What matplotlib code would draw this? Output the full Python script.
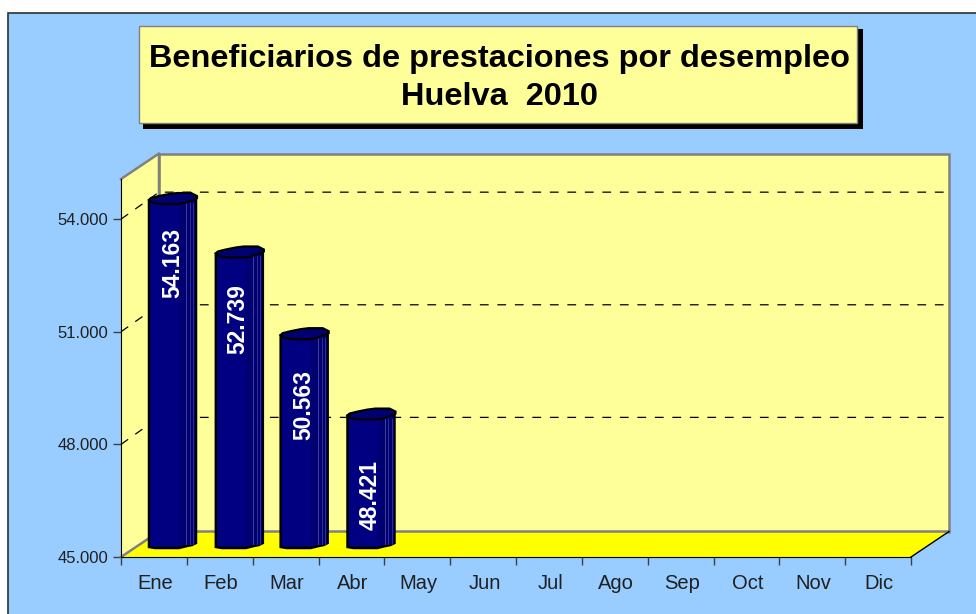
import matplotlib
matplotlib.use('Agg')
import matplotlib.pyplot as plt
from matplotlib.patches import Polygon, Rectangle

plt.rcParams['font.family'] = ['Liberation Sans', 'DejaVu Sans']

months = ['Ene', 'Feb', 'Mar', 'Abr', 'May', 'Jun', 'Jul', 'Ago', 'Sep', 'Oct', 'Nov', 'Dic']
values = [54163, 52739, 50563, 48421]
value_labels = ['54.163', '52.739', '50.563', '48.421']
y_ticks = [45000, 48000, 51000, 54000]
y_tick_labels = ['45.000', '48.000', '51.000', '54.000']
title_lines = ['Beneficiarios de prestaciones por desempleo', 'Huelva  2010']

W, H = 976, 614
BLUE = '#99CCFF'
WALL = '#FFFF99'
FLOOR = '#FFFF00'
NAVY = '#000080'
GRAY = '#808080'

fig = plt.figure(figsize=(W / 100, H / 100), dpi=100, facecolor='white')

# page background, with the dark border seen in the picture
bg = fig.add_axes([0, 0, 1, 1])
bg.set_xlim(0, W)
bg.set_ylim(H, 0)
bg.axis('off')
bg.add_patch(Rectangle((8, 13), W, H, facecolor=BLUE, edgecolor='#303030', lw=1.2))

# title box with its hard shadow
bg.add_patch(Rectangle((143, 29), 720, 100, facecolor='black', edgecolor='none'))
bg.add_patch(Rectangle((139, 26), 718, 97, facecolor=WALL, edgecolor=GRAY, lw=1))
for line, ty in zip(title_lines, [57, 95]):
    bg.text(499.5, ty + 2, line, ha='center', va='center', fontsize=23.4,
            fontweight='bold', color='black')

# the axes is the front face of the fake 3D box
ax = fig.add_axes([121 / W, 1 - 557 / H, 790 / W, 378 / H])
ax.set_xlim(0, 12)
y0, y1 = 45000, 55070
ax.set_ylim(y0, y1)
ax.patch.set_visible(False)
for s in ['top', 'right']:
    ax.spines[s].set_visible(False)
ax.spines['left'].set_color('black')
ax.spines['bottom'].set_color('black')
ax.spines['left'].set_zorder(6)
ax.spines['bottom'].set_zorder(6)

UX = 12 / 790              # one pixel in x
UY = (y1 - y0) / 378       # one pixel in y

# depth of the box in data units
DX = 38 * UX
DY = 25.5 * UY

ax.add_patch(Polygon([(0, y0), (DX, y0 + DY), (DX, y1 + DY), (0, y1)], closed=True,
                     facecolor=WALL, edgecolor='none', clip_on=False, zorder=1))
ax.add_patch(Rectangle((DX, y0 + DY), 12, y1 - y0, facecolor=WALL, edgecolor=GRAY,
                       lw=1.8, clip_on=False, zorder=1))
ax.add_patch(Polygon([(0, y0), (12, y0), (12 + DX, y0 + DY), (DX, y0 + DY)], closed=True,
                     facecolor=FLOOR, edgecolor='none', clip_on=False, zorder=2))
ax.plot([0, DX, DX, 12 + DX], [y1, y1 + DY, y0 + DY, y0 + DY], color=GRAY, lw=1.8,
        clip_on=False, zorder=2.5)
ax.plot([0, DX], [y0, y0 + DY], color=GRAY, lw=1.8, clip_on=False, zorder=2.5)
ax.plot([12, 12 + DX], [y0, y0 + DY], color='black', lw=1, clip_on=False, zorder=2.5)

# dashed gridlines on the side and back walls
for t in y_ticks[1:]:
    gy = t + DY + 1.5 * UY
    ax.plot([0, DX, 12 + DX], [t, gy, gy], color='black', lw=0.9,
            dashes=(7, 7), clip_on=False, zorder=2.2)

# cap outline of a column, in pixels from its left edge and its value level
cap_shape = [(0, 3), (2, 5), (10, 7), (20, 9), (28, 10), (42, 10), (46, 8), (48, 7), (48, 5),
             (47, 4), (40, 2), (36, 0), (28, -1), (14, -1), (4, 0)]

# the columns are not quite evenly spaced in the picture
left_nudge = [0, 1, 0, 1]

# columns stand part way into the box, so they sit about 10 px above their axis value
for i, v in enumerate(values):
    left = i + (28 + left_nudge[i]) * UX
    right = left + 47 * UX
    base = y0 + 9 * UY
    vt = v + 10 * UY
    body = [(left, vt + 3 * UY), (left, base + UY), (left + 6 * UX, base), (left + 30 * UX, base),
            (left + 38 * UX, base + 2 * UY), (right - 4 * UX, base + 3 * UY),
            (right, base + 5 * UY), (right, vt + 6 * UY)]
    ax.add_patch(Polygon(body, closed=True, facecolor=NAVY, edgecolor='black', lw=1.8,
                         clip_on=False, zorder=4))
    # darker side of the column
    ax.add_patch(Rectangle((left + 30 * UX, base + 3 * UY), 16 * UX, vt - base - 3 * UY,
                           facecolor='#000070', edgecolor='none', clip_on=False, zorder=4.2))
    for k, c in [(0.79, '#4040A0'), (0.87, '#30308F'), (0.94, '#30308F')]:
        ax.plot([left + k * (right - left)] * 2, [base + 4 * UY, vt], color=c, lw=0.7,
                clip_on=False, zorder=4.5)
    cap = [(left + a * UX, vt + b * UY) for a, b in cap_shape]
    ax.add_patch(Polygon(cap, closed=True, facecolor='#000070', edgecolor='black', lw=1.6,
                         clip_on=False, zorder=5))

# white labels sit at varying drops below the column tops
label_drop = [60, 63, 67, 76]
for i, (v, s) in enumerate(zip(values, value_labels)):
    ax.text(i + 28 * UX + 23.5 * UX, v + 10 * UY - label_drop[i] * UY, s, rotation=90, ha='center',
            va='center', color='white', fontsize=16.5, fontweight='bold', zorder=7)

ax.set_yticks(y_ticks)
ax.set_yticklabels(y_tick_labels, fontsize=12, color='#202020')
ax.set_xticks(range(13))
ax.set_xticklabels([])
ax.set_xticks([i + 0.52 for i in range(12)], minor=True)
ax.set_xticklabels(months, minor=True, fontsize=14.5, color='#202020')
ax.tick_params(axis='x', which='major', length=6, width=1, color='#404040')
ax.tick_params(axis='x', which='minor', length=0, pad=12)
ax.tick_params(axis='y', length=6, width=1, color='#404040', pad=3)

fig.savefig('out.png', dpi=100, facecolor='white')
